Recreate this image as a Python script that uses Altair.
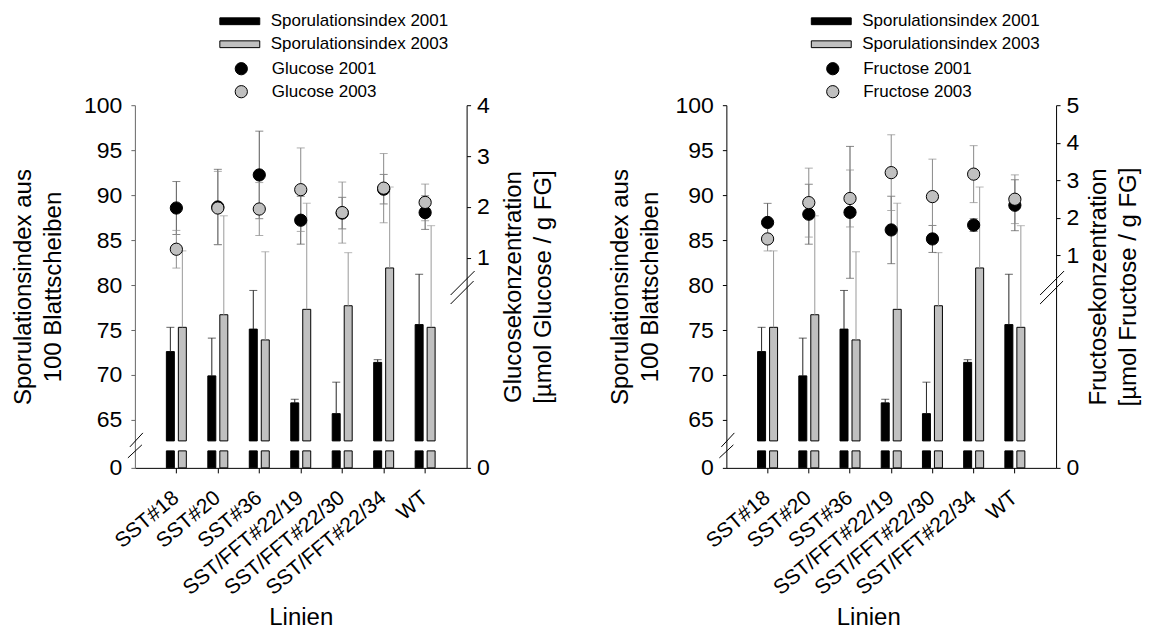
import altair as alt
import pandas as pd

# ---------------- data ----------------
lines = ["SST#18", "SST#20", "SST#36", "SST/FFT#22/19", "SST/FFT#22/30", "SST/FFT#22/34", "WT"]

spor_2001 = [72.6, 69.9, 75.1, 66.9, 65.7, 71.4, 75.6]
spor_2001_err = [2.7, 4.2, 4.3, 0.4, 3.5, 0.3, 5.6]
spor_2003 = [75.3, 76.7, 73.9, 77.3, 77.7, 81.9, 75.3]
spor_2003_err = [8.5, 11.0, 9.8, 11.8, 5.9, 9.0, 11.3]

glucose_2001 = [1.98, 2.00, 2.63, 1.74, 1.88, 2.35, 1.89]
glucose_2001_err = [0.52, 0.74, 0.86, 0.47, 0.31, 0.29, 0.33]
glucose_2003 = [1.17, 1.98, 1.96, 2.34, 1.89, 2.37, 2.09]
glucose_2003_err = [0.37, 0.72, 0.52, 0.82, 0.60, 0.68, 0.36]

fructose_2001 = [1.87, 2.09, 2.14, 1.67, 1.43, 1.80, 2.33]
fructose_2001_err = [0.51, 0.80, 1.76, 0.90, 0.36, 0.17, 0.68]
fructose_2003 = [1.43, 2.40, 2.51, 3.20, 2.56, 3.16, 2.49]
fructose_2003_err = [0.32, 0.92, 0.76, 1.01, 1.00, 0.76, 0.65]

spor_ticks = [0, 65, 70, 75, 80, 85, 90, 95, 100]
glucose_ticks = [0, 1, 2, 3, 4]
fructose_ticks = [0, 1, 2, 3, 4, 5]

# ---------------- style ----------------
FONT = "Liberation Sans"
H = 363
GRAY = "#c0c0c0"
BREAK_LO = 61.56   # bars are interrupted between these two values
BREAK_HI = 62.67


def make_panel(sugar01, sugar01e, sugar03, sugar03e, sugar_name, sugar_ticks,
               sugar_domain, sugar_title, width, title_x, left_axis_color,
               left_title_x, right_title_x):
    df = pd.DataFrame({
        "Linie": lines,
        "s01": spor_2001, "s01e": spor_2001_err,
        "s03": spor_2003, "s03e": spor_2003_err,
        "g01": sugar01, "g01e": sugar01e,
        "g03": sugar03, "g03e": sugar03e,
    })
    base = alt.Chart(df)

    x_axis = alt.Axis(title="Linien", labelAngle=-40, labelAlign="right", labelBaseline="middle",
                      labelFontSize=21, titleFontSize=24, tickSize=5, labelPadding=22,
                      titleX=title_x, titleY=157, titleBaseline="alphabetic", titleAlign="center",
                      domainColor="black", tickColor="black",
                      labelColor="black", titleColor="black", titleFontWeight="normal",
                      labelFont=FONT, titleFont=FONT)
    x_enc = alt.X("Linie:N", sort=lines, axis=x_axis,
                  scale=alt.Scale(paddingInner=0, paddingOuter=0.5))

    spor_scale = alt.Scale(domain=[0, BREAK_LO, 100], range=[H, H - 17, 0])
    spor_axis = alt.Axis(title=["Sporulationsindex aus", "100 Blattscheiben"], values=spor_ticks,
                         grid=False, tickSize=4, labelFontSize=23, titleFontSize=24,
                         titleFontWeight="normal", titleLineHeight=30, labelPadding=9,
                         titleAngle=270, titleBaseline="bottom", titleAlign="center",
                         titleX=left_title_x, titleY=H / 2,
                         domainColor=left_axis_color, tickColor=left_axis_color,
                         labelColor="black", titleColor="black", labelFont=FONT, titleFont=FONT)

    names = ["Sporulationsindex 2001", "Sporulationsindex 2003"]
    color_scale = alt.Scale(domain=names, range=["black", GRAY])
    bar_legend = alt.Legend(title=None, orient="none", legendX=96, legendY=-93,
                            symbolType="M-2.35,-0.4H2.35V0.4H-2.35Z", symbolSize=289,
                            symbolStrokeColor="black", symbolStrokeWidth=1,
                            labelFontSize=17, labelFont=FONT, labelColor="black", labelLimit=400,
                            labelOffset=22, rowPadding=6, padding=0)

    bar_layers = []
    for fld, off, name, ecol in [("s01", -6, names[0], "#222222"), ("s03", 6, names[1], "#9a9a9a")]:
        b = base.transform_calculate(y0="0", y1=str(BREAK_LO), y2v=str(BREAK_HI),
                                     top=f"datum.{fld} + datum.{fld}e", s=f'"{name}"')
        col = alt.Color("s:N", scale=color_scale, legend=bar_legend)
        yl = alt.Y("y0:Q", scale=spor_scale, axis=spor_axis)
        bar_layers.append(b.mark_bar(size=8, xOffset=off, stroke="black", strokeWidth=1).encode(
            x=x_enc, y=yl, y2="y1:Q", color=col))
        bar_layers.append(b.mark_bar(size=8, xOffset=off, stroke="black", strokeWidth=1).encode(
            x=x_enc, y=alt.Y("y2v:Q", scale=spor_scale, axis=spor_axis), y2=f"{fld}:Q", color=col))
        bar_layers.append(b.mark_rule(xOffset=off, color=ecol, strokeWidth=1).encode(
            x=x_enc, y=alt.Y(f"{fld}:Q", scale=spor_scale, axis=spor_axis), y2="top:Q"))
        bar_layers.append(b.mark_tick(xOffset=off, color=ecol, size=8, thickness=1).encode(
            x=x_enc, y=alt.Y("top:Q", scale=spor_scale, axis=spor_axis)))

    # axis break marks (decoration)
    one = alt.Chart(pd.DataFrame({"k": [0]}))
    breaks = [(-5, 342, 8, 328), (-7, 353, 7, 340),
              (width - 16, 190, width + 8, 166), (width - 16, 199, width + 7, 176)]
    for (xa, ya, xb, yb) in breaks:
        bar_layers.append(one.mark_rule(color="black", strokeWidth=1).encode(
            x=alt.value(xa), y=alt.value(ya), x2=alt.value(xb), y2=alt.value(yb)))

    bars = alt.layer(*bar_layers)

    sugar_scale = alt.Scale(domain=sugar_domain, range=[H, 186, 0])
    sugar_axis = alt.Axis(orient="right", title=sugar_title, values=sugar_ticks, grid=False,
                          tickSize=4, labelFontSize=23, titleFontSize=24, titleFontWeight="normal",
                          titleAngle=270, titleBaseline="top", titleAlign="center",
                          titleLineHeight=30, titleX=right_title_x, titleY=H / 2,
                          labelPadding=6, domainColor="black", tickColor="black",
                          labelColor="black", titleColor="black", labelFont=FONT, titleFont=FONT)
    pnames = [f"{sugar_name} 2001", f"{sugar_name} 2003"]
    fill_scale = alt.Scale(domain=pnames, range=["black", GRAY])
    pt_legend = alt.Legend(title=None, orient="none", legendX=98, legendY=-45,
                           symbolType="circle", symbolSize=150, symbolStrokeColor="black",
                           symbolStrokeWidth=1, labelFontSize=17, labelFont=FONT, labelLimit=400,
                           labelColor="black", labelOffset=22, rowPadding=5, padding=0)

    pt_layers = []
    for fld, name, ecol in [("g01", pnames[0], "#555555"), ("g03", pnames[1], "#8a8a8a")]:
        b = base.transform_calculate(lo=f"datum.{fld} - datum.{fld}e",
                                     hi=f"datum.{fld} + datum.{fld}e", s=f'"{name}"')
        ys = lambda f: alt.Y(f, scale=sugar_scale, axis=sugar_axis)
        pt_layers.append(b.mark_rule(color=ecol, strokeWidth=1).encode(
            x=x_enc, y=ys("lo:Q"), y2="hi:Q"))
        pt_layers.append(b.mark_tick(color=ecol, size=8, thickness=1).encode(x=x_enc, y=ys("lo:Q")))
        pt_layers.append(b.mark_tick(color=ecol, size=8, thickness=1).encode(x=x_enc, y=ys("hi:Q")))
    for fld, name in [("g01", pnames[0]), ("g03", pnames[1])]:
        b = base.transform_calculate(s=f'"{name}"')
        pt_layers.append(b.mark_circle(size=150, stroke="black", strokeWidth=1, opacity=1).encode(
            x=x_enc, y=alt.Y(f"{fld}:Q", scale=sugar_scale, axis=sugar_axis),
            fill=alt.Fill("s:N", scale=fill_scale, legend=pt_legend)))
    points = alt.layer(*pt_layers)

    return alt.layer(bars, points).resolve_scale(y="independent").properties(width=width, height=H)


left = make_panel(glucose_2001, glucose_2001_err, glucose_2003, glucose_2003_err, "Glucose",
                  glucose_ticks, [0, 0.349, 4],
                  ["Glucosekonzentration", "[µmol Glucose / g FG]"], 332, 166, "#666666",
                  -99, 35)
right = make_panel(fructose_2001, fructose_2001_err, fructose_2003, fructose_2003_err, "Fructose",
                   fructose_ticks, [0, 0.04, 5],
                   ["Fructosekonzentration", "[µmol Fructose / g FG]"], 330, 142, "black",
                   -94, 30)

chart = alt.hconcat(left, right, spacing=260, bounds="flush").resolve_scale(
    color="independent", fill="independent"
).resolve_legend(color="independent", fill="independent").configure_view(stroke=None).properties(
    padding={"left": 4, "top": 4, "right": 5, "bottom": 0}
)

chart.save("out.html", embed_options={"renderer": "svg", "actions": False})
